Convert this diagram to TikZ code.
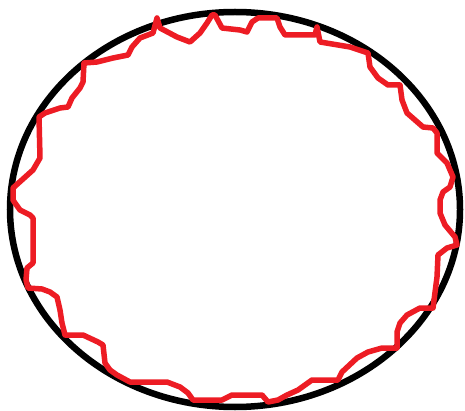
\documentclass[tikz,border=0pt]{standalone}
\usetikzlibrary{shapes.geometric}
\definecolor{paintred}{HTML}{ED1C24}
\tikzset{
  outline/.style={draw=black, line width=6.5pt},
  jagged/.style={draw=paintred, line width=5.5pt, line join=round, line cap=round}
}
\begin{document}
\begin{tikzpicture}[x=1pt,y=-1pt]
\useasboundingbox (0,0) rectangle (465,411);
\node[outline, ellipse, minimum width=450pt, minimum height=395pt, inner sep=0pt] (oval) at (235,209.5) {};
\draw[jagged] (13,188) -- (33,170) -- (40,158) -- (39,117) -- (45,113) -- (60,108) -- (68,107) -- (72,98) -- (80,88) -- (83,82) -- (84,63) -- (97,62) -- (113,58) -- (128,55) -- (132,47) -- (140,38) -- (153,33) -- (157,18) -- (160,28) -- (177,37) -- (190,42) -- (200,33) -- (207,23) -- (212,15) -- (215,15) -- (222,28) -- (240,30)
 -- (247,32) -- (252,22) -- (258,18) -- (277,18) -- (280,27) -- (285,35) -- (315,35) -- (317,27) -- (320,42) -- (338,45) -- (350,47) -- (365,52) -- (368,53) -- (370,67) -- (378,78) -- (388,85) -- (400,85) -- (402,100) -- (407,113) -- (423,127) -- (433,128) -- (437,133) -- (437,153) -- (447,163) -- (453,177) -- (450,187) -- (443,192) -- (440,200)
 -- (440,213) -- (445,225) -- (455,237) -- (457,245) -- (447,248) -- (438,255) -- (437,277) -- (433,308) -- (420,308) -- (407,315) -- (400,323) -- (397,332) -- (397,348) -- (382,348) -- (368,352) -- (357,358) -- (342,372) -- (338,380) -- (312,380) -- (298,390) -- (287,395) -- (278,400) -- (268,402) -- (262,395) -- (232,395)
 -- (222,400) -- (193,400) -- (188,393) -- (180,387) -- (167,382) -- (130,382) -- (117,375) -- (110,370) -- (105,363) -- (103,345) -- (98,342) -- (83,335) -- (65,335) -- (62,323) -- (60,310) -- (57,297) -- (50,292) -- (42,289) -- (28,288) -- (26,280) -- (27,268) -- (33,263) -- (33,218) -- (30,215) -- (20,210) -- (15,203) -- (13,200) -- cycle;
\end{tikzpicture}
\end{document}
